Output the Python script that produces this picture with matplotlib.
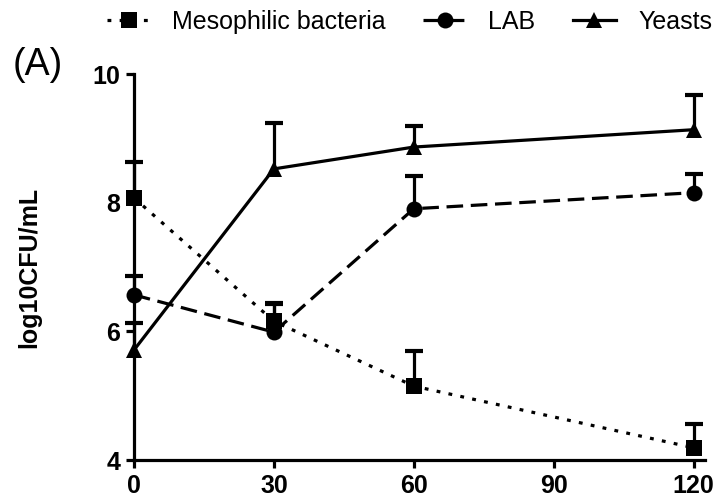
import matplotlib
matplotlib.use("Agg")
import matplotlib.pyplot as plt
import numpy as np

plt.rcParams['font.family'] = ['Liberation Sans', 'DejaVu Sans']

time = [0, 30, 60, 120]
meso = [8.08, 6.16, 5.15, 4.19]
meso_sd = [0.55, 0.28, 0.55, 0.37]
lab = [6.57, 5.99, 7.91, 8.16]
lab_sd = [0.29, 0.44, 0.51, 0.29]
yeast = [5.71, 8.53, 8.87, 9.14]
yeast_sd = [0.42, 0.72, 0.33, 0.54]
xticks = [0, 30, 60, 90, 120]
yticks = [4, 6, 8, 10]

fig = plt.figure(figsize=(7.2, 5.04), dpi=100)
ax = fig.add_axes([0.186, 0.0873, 0.793, 0.765])

lw = 2.3
series = [
    (meso, meso_sd, 's', (0, (1.2, 2.6)), 'Mesophilic bacteria'),
    (lab, lab_sd, 'o', (0, (5.2, 2.4)), 'LAB'),
    (yeast, yeast_sd, '^', '-', 'Yeasts'),
]
handles = []
for vals, sd, mk, ls, lab_name in series:
    _, caps, bars = ax.errorbar(time, vals, yerr=[np.zeros(len(sd)), sd],
                                fmt='none', ecolor='black', elinewidth=2.3,
                                capsize=6.5, capthick=3.0, zorder=3)
    caps[0].set_visible(False)
    for c in caps:
        c.set_clip_on(False)
    for b in bars:
        b.set_clip_on(False)
    h, = ax.plot(time, vals, color='black', linestyle=ls, linewidth=lw,
                 marker=mk, markersize=11.5, markerfacecolor='black',
                 markeredgecolor='black', markeredgewidth=0,
                 clip_on=False, zorder=4, label=lab_name)
    handles.append(h)

ax.set_xlim(0, 122.4)
ax.set_ylim(4, 10)
ax.set_xticks(xticks)
ax.set_yticks(yticks)
ax.set_xticklabels([str(t) for t in xticks], fontsize=18, fontweight='bold')
ax.set_yticklabels([str(t) for t in yticks], fontsize=18, fontweight='bold')
for s in ['top', 'right']:
    ax.spines[s].set_visible(False)
for s in ['left', 'bottom']:
    ax.spines[s].set_linewidth(2.3)
ax.tick_params(direction='out', width=2.3, length=6, pad=4)
ax.set_ylabel('log10CFU/mL', fontsize=18, fontweight='bold')
ax.yaxis.set_label_coords(-0.163, 0.5)

fig.text(0.053, 0.871, '(A)', fontsize=27, ha='center', va='center')

fig.legend(handles=handles, loc='center', bbox_to_anchor=(0.569, 0.956),
           ncol=3, frameon=False, fontsize=18, handlelength=1.7,
           columnspacing=1.5, handletextpad=0.9, borderpad=0, borderaxespad=0)

fig.savefig('out.png', dpi=100)
